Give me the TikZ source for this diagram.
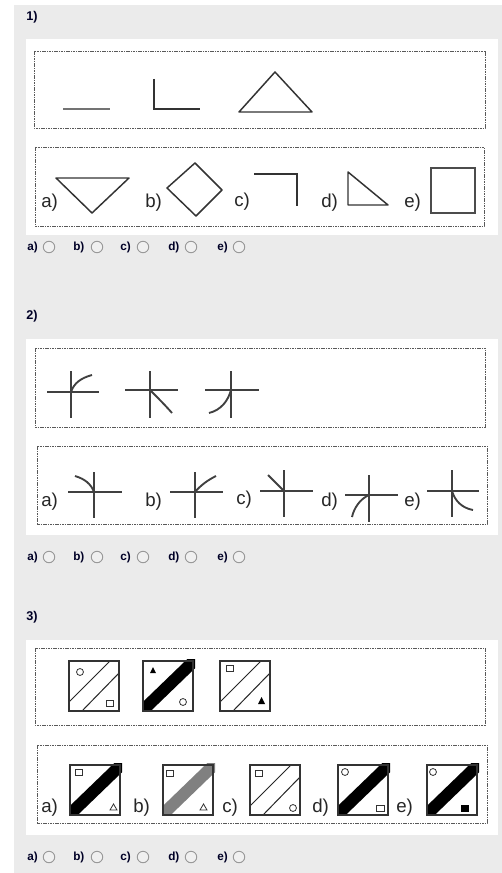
\documentclass[tikz,border=0pt]{standalone}
\usepackage{fontspec}
\setmainfont{Liberation Sans}
\begin{document}
\begin{tikzpicture}[x=0.75pt,y=-0.75pt,
  panelbox/.style={draw=black!65,line width=0.55pt,dash pattern=on 1.2pt off 0.6pt},
  fig/.style={draw=black!80,line width=1.1pt},
  fig2/.style={draw=black!75,line width=1.4pt},
  hdr/.style={font=\fontsize{9.5}{10}\selectfont\bfseries,anchor=west,inner sep=0pt,text=black!85!blue},
  optlab/.style={font=\fontsize{14}{15}\selectfont,anchor=west,inner sep=0pt,text=black!85},
  radlab/.style={font=\fontsize{8.8}{10}\selectfont\bfseries,anchor=west,inner sep=0pt,text=black!85!blue},
  radio/.style={circle,draw=black!40,fill=white!94!black,line width=0.7pt,minimum size=8.6pt,inner sep=0pt},
  tile/.style={draw=black!80,line width=0.9pt},
  tline/.style={draw=black!85,line width=0.75pt},
  small/.style={draw=black!80,line width=0.6pt},
  band/.style={line width=9pt,line cap=butt}
]
\useasboundingbox (0,0) rectangle (502,873);
\fill[black!8] (14,5) rectangle (502,873);
\fill[white] (26,39) rectangle (498,235);
\fill[white] (26,339) rectangle (498,535);
\fill[white] (26,640) rectangle (498,835);

% ---------------- Section 1
\node[hdr] (h1) at (26,17) {1)};
\draw[panelbox] (34,51) rectangle (485,128);
\draw[panelbox] (35,147) rectangle (484,226);
\draw[draw=black!55,line width=1.1pt] (63,109) -- (110,109);
\draw[fig] (154,79) -- (154,109) -- (200,109);
\draw[fig,line join=round] (275,72) -- (239,112) -- (312,112) -- cycle;

\node[optlab] (o1a) at (41,203) {a)};
\draw[fig,line join=round] (56,178) -- (129,178) -- (92,213) -- cycle;
\node[optlab] (o1b) at (145,203) {b)};
\draw[fig,line join=round] (195,163) -- (222,190) -- (196,216) -- (167,188) -- cycle;
\node[optlab] (o1c) at (234,202) {c)};
\draw[fig] (254,174) -- (297,174) -- (297,206);
\node[optlab] (o1d) at (321,203) {d)};
\draw[fig,line join=round] (348,172) -- (348,205) -- (388,205) -- cycle;
\node[optlab] (o1e) at (404,203) {e)};
\draw[draw=black!70,line width=1.1pt] (431,168) rectangle (475,213);

\foreach \lab/\lx/\cx in {a/27/49,b/73/97,c/120/143,d/168/191,e/217/239}{
  \node[radlab] (r1\lab) at (\lx,247) {\lab)};
  \node[radio] (c1\lab) at (\cx,247) {};
}

% ---------------- Section 2
\node[hdr] (h2) at (26,316) {2)};
\draw[panelbox] (35,348) rectangle (485,427);
\draw[panelbox] (37,446) rectangle (487,524);

\draw[fig2] (47,392) -- (99,392);
\draw[fig2] (71,371) -- (71,418);
\draw[fig2] (71,392) .. controls (74,383) and (81,378) .. (92,375);

\draw[fig2] (125,390) -- (178,390);
\draw[fig2] (150,371) -- (150,418);
\draw[fig2] (150,390) .. controls (158,398) and (165,405) .. (172,413);

\draw[fig2] (205,390) -- (259,390);
\draw[fig2] (231,371) -- (231,418);
\draw[fig2] (231,390) .. controls (228,401) and (221,410) .. (209,413);

\node[optlab] (o2a) at (41,502) {a)};
\draw[fig2] (68,492) -- (122,492);
\draw[fig2] (94,472) -- (94,518);
\draw[fig2] (94,492) .. controls (91,484) and (85,479) .. (75,476);
\node[optlab] (o2b) at (145,502) {b)};
\draw[fig2] (170,492) -- (223,492);
\draw[fig2] (195,472) -- (195,518);
\draw[fig2] (195,492) .. controls (201,485) and (208,480) .. (216,476);
\node[optlab] (o2c) at (236,500) {c)};
\draw[fig2] (260,491) -- (313,491);
\draw[fig2] (284,470) -- (284,517);
\draw[fig2] (284,491) -- (268,475);
\node[optlab] (o2d) at (321,502) {d)};
\draw[fig2] (345,495) -- (398,495);
\draw[fig2] (369,475) -- (369,522);
\draw[fig2] (369,495) .. controls (360,499) and (354,508) .. (352,517);
\node[optlab] (o2e) at (404,502) {e)};
\draw[fig2] (427,491) -- (479,491);
\draw[fig2] (452,470) -- (452,517);
\draw[fig2] (452,491) .. controls (455,501) and (462,508) .. (473,510);

\foreach \lab/\lx/\cx in {a/27/49,b/73/97,c/120/143,d/168/191,e/217/239}{
  \node[radlab] (r2\lab) at (\lx,557) {\lab)};
  \node[radio] (c2\lab) at (\cx,557) {};
}

% ---------------- Section 3
\node[hdr] (h3) at (26,617) {3)};
\draw[panelbox] (35,648) rectangle (485,725);
\draw[panelbox] (37,745) rectangle (487,823);

% tile 1
\begin{scope}[shift={(69,661)}]
  \draw[tline] (0,41) -- (41,0);
  \draw[tline] (13,50) -- (50,12);
  \draw[small] (11,11) circle[radius=2.6pt];
  \draw[small] (37,39) rectangle (44,45);
  \draw[tile] (0,0) rectangle (50,50);
\end{scope}
% tile 2
\begin{scope}[shift={(143,661)}]
  \begin{scope}
    \clip (0,-2) rectangle (52,50);
    \draw[band,black] (-4,53) -- (54,-3);
  \end{scope}
  \fill[black] (7,12) -- (13,12) -- (10,6) -- cycle;
  \draw[small] (40,41) circle[radius=2.6pt];
  \draw[tile] (0,0) rectangle (50,50);
\end{scope}
% tile 3
\begin{scope}[shift={(220,661)}]
  \draw[tline] (0,41) -- (41,0);
  \draw[tline] (13,50) -- (50,12);
  \draw[small] (6,4) rectangle (13,10);
  \fill[black] (38,43) -- (45,43) -- (41.5,36) -- cycle;
  \draw[tile] (0,0) rectangle (50,50);
\end{scope}

\node[optlab] (o3a) at (41,808) {a)};
\begin{scope}[shift={(70,765)}]
  \begin{scope}
    \clip (0,-2) rectangle (52,50);
    \draw[band,black] (-4,53) -- (54,-3);
  \end{scope}
  \draw[small] (5,4) rectangle (12,10);
  \draw[small] (40,45) -- (47,45) -- (43.5,39) -- cycle;
  \draw[tile] (0,0) rectangle (50,50);
\end{scope}
\node[optlab] (o3b) at (133,808) {b)};
\begin{scope}[shift={(163,765)}]
  \begin{scope}
    \clip (0,-2) rectangle (52,50);
    \draw[band,black!50] (-4,53) -- (54,-3);
  \end{scope}
  \draw[small] (3,5) rectangle (10,11);
  \draw[small] (37,45) -- (44,45) -- (40.5,39) -- cycle;
  \draw[tile] (0,0) rectangle (50,50);
\end{scope}
\node[optlab] (o3c) at (222,808) {c)};
\begin{scope}[shift={(250,765)}]
  \draw[tline] (0,41) -- (41,0);
  \draw[tline] (13,50) -- (50,12);
  \draw[small] (5,5) rectangle (12,11);
  \draw[small] (43,43) circle[radius=2.6pt];
  \draw[tile] (0,0) rectangle (50,50);
\end{scope}
\node[optlab] (o3d) at (312,808) {d)};
\begin{scope}[shift={(338,765)}]
  \begin{scope}
    \clip (0,-2) rectangle (52,50);
    \draw[band,black] (-4,53) -- (54,-3);
  \end{scope}
  \draw[small] (7,7) circle[radius=2.6pt];
  \draw[small] (38,40) rectangle (46,46);
  \draw[tile] (0,0) rectangle (50,50);
\end{scope}
\node[optlab] (o3e) at (396,808) {e)};
\begin{scope}[shift={(427,765)}]
  \begin{scope}
    \clip (0,-2) rectangle (52,50);
    \draw[band,black] (-4,53) -- (54,-3);
  \end{scope}
  \draw[small] (6,7) circle[radius=2.6pt];
  \fill[black] (34,40) rectangle (42,47);
  \draw[tile] (0,0) rectangle (50,50);
\end{scope}

\foreach \lab/\lx/\cx in {a/27/49,b/73/97,c/120/143,d/168/191,e/217/239}{
  \node[radlab] (r3\lab) at (\lx,857) {\lab)};
  \node[radio] (c3\lab) at (\cx,857) {};
}
\end{tikzpicture}
\end{document}
